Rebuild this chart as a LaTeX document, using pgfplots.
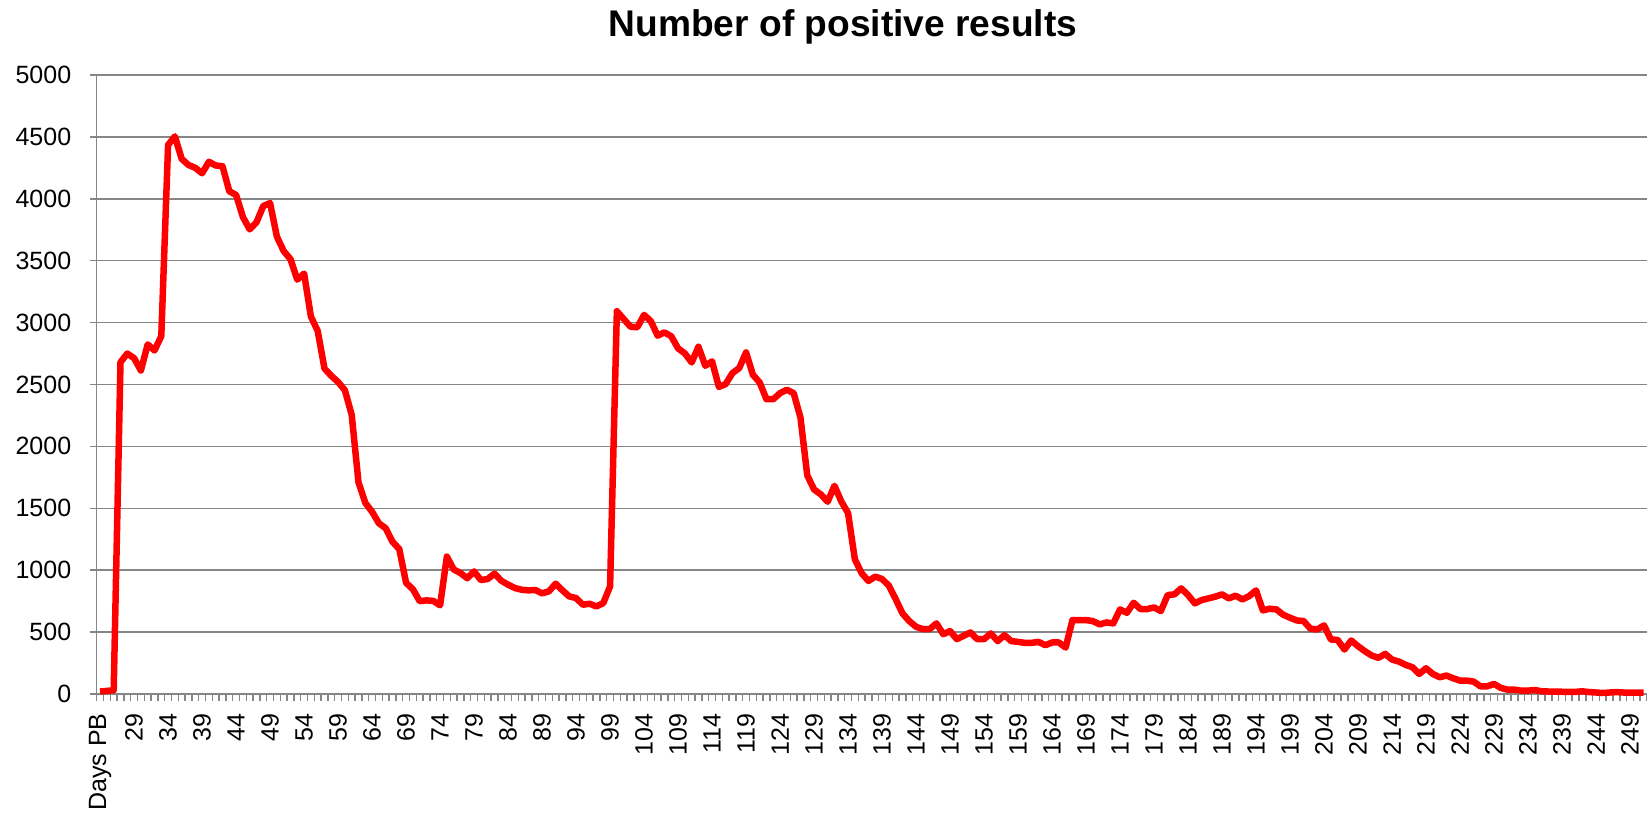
\documentclass[border=0pt]{standalone}
\usepackage{fontspec}
\setmainfont{Liberation Sans}
\usepackage{pgfplots}
\pgfplotsset{compat=1.18}
\usepackage{pgfplotstable}
\usetikzlibrary{calc}
\definecolor{gridgray}{RGB}{134,134,134}
\definecolor{linered}{RGB}{255,0,0}
\pgfplotstableread{
x y
0 20
1 25
2 30
3 2680
4 2750
5 2712
6 2613
7 2824
8 2775
9 2890
10 4435
11 4504
12 4322
13 4273
14 4250
15 4206
16 4299
17 4269
18 4263
19 4061
20 4031
21 3853
22 3753
23 3810
24 3942
25 3965
26 3694
27 3578
28 3512
29 3347
30 3396
31 3049
32 2933
33 2629
34 2570
35 2520
36 2454
37 2255
38 1710
39 1544
40 1472
41 1379
42 1339
43 1230
44 1170
45 898
46 846
47 750
48 756
49 752
50 716
51 1110
52 1006
53 977
54 935
55 990
56 920
57 929
58 972
59 915
60 883
61 856
62 842
63 837
64 840
65 813
66 829
67 891
68 837
69 788
70 775
71 721
72 729
73 707
74 734
75 869
76 3092
77 3029
78 2967
79 2962
80 3062
81 3011
82 2894
83 2921
84 2889
85 2792
86 2751
87 2678
88 2805
89 2651
90 2687
91 2481
92 2503
93 2592
94 2633
95 2759
96 2579
97 2516
98 2381
99 2381
100 2430
101 2457
102 2430
103 2233
104 1766
105 1652
106 1612
107 1553
108 1682
109 1556
110 1461
111 1088
112 975
113 913
114 948
115 929
116 875
117 767
118 651
119 589
120 543
121 524
122 524
123 570
124 483
125 508
126 443
127 470
128 497
129 443
130 443
131 489
132 427
133 475
134 427
135 421
136 413
137 413
138 421
139 394
140 416
141 416
142 375
143 597
144 597
145 597
146 589
147 562
148 578
149 570
150 683
151 656
152 737
153 686
154 686
155 699
156 670
157 799
158 805
159 853
160 799
161 732
162 759
163 772
164 786
165 805
166 772
167 794
168 764
169 791
170 837
171 675
172 689
173 683
174 640
175 616
176 594
177 589
178 527
179 521
180 554
181 440
182 437
183 359
184 432
185 386
186 346
187 311
188 292
189 324
190 278
191 262
192 235
193 216
194 162
195 208
196 162
197 135
198 149
199 127
200 108
201 108
202 100
203 62
204 62
205 81
206 49
207 35
208 35
209 27
210 27
211 32
212 22
213 20
214 20
215 18
216 18
217 17
218 22
219 15
220 12
221 8
222 12
223 15
224 12
225 10
226 10
227 10
}\datatable
\begin{document}
\begin{tikzpicture}
\begin{axis}[
  name=ax,
  scale only axis,
  width=620.12pt, height=247.6pt,
  xmin=-0.5, xmax=227.5,
  ymin=0, ymax=5000,
  axis lines*=left,
  axis line style={-, draw=gridgray, line width=0.6pt},
  ytick={0,500,...,5000},
  ymajorgrids,
  major grid style={draw=gridgray, line width=0.6pt},
  xtick={0,5,...,225},
  xticklabels={Days PB,29,34,39,44,49,54,59,64,69,74,79,84,89,94,99,104,109,114,119,124,129,134,139,144,149,154,159,164,169,174,179,184,189,194,199,204,209,214,219,224,229,234,239,244,249},
  minor xtick={-0.5,0.5,...,227.5},
  tick align=outside,
  major tick length=2.8pt,
  minor tick length=2.8pt,
  major x tick style={draw=none},
  minor x tick style={draw=gridgray, line width=0.6pt},
  major y tick style={draw=gridgray, line width=0.6pt},
  /pgf/number format/assume math mode=true,
  /pgf/number format/1000 sep={},
  tick label style={font=\fontsize{10}{12}\selectfont, text=black},
  xticklabel style={rotate=90, anchor=east, inner sep=0pt},
  yticklabel style={anchor=east, inner sep=0pt},
  xticklabel shift=4.8pt,
  yticklabel shift=7.2pt,
  clip=false,
]
\addplot[draw=linered, line width=2.6pt, line join=round, no marks] table[x=x,y=y] {\datatable};
\end{axis}
\node[anchor=base, font=\bfseries\fontsize{14.85}{18}\selectfont] at ($(ax.north west)+(298.5pt,15.2pt)$) {Number of positive results};
\pgfresetboundingbox
\path ($(ax.south west)+(-38.68pt,-47.6pt)$) rectangle ($(ax.north east)+(0pt,30pt)$);
\end{tikzpicture}
\end{document}
